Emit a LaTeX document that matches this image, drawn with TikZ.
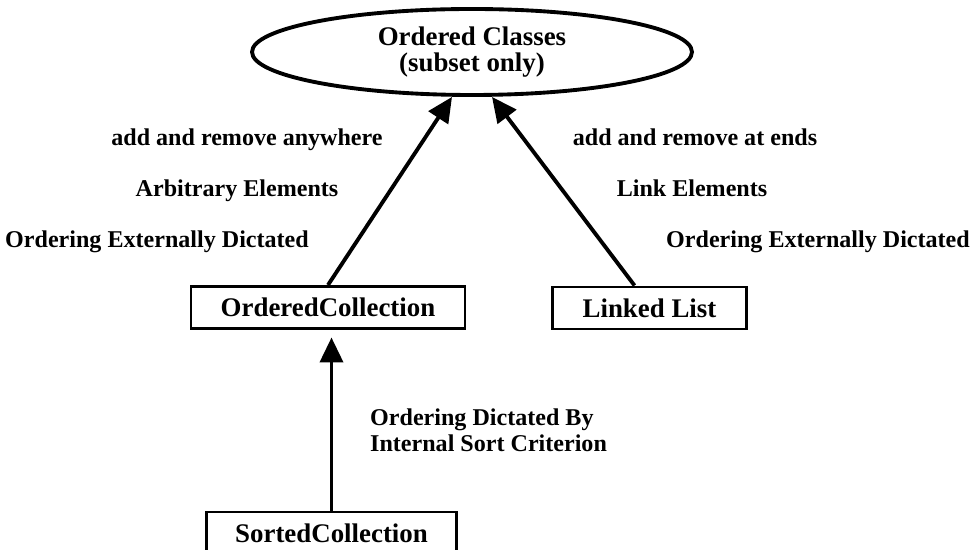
\documentclass[tikz,border=0pt]{standalone}
\usepackage{fontspec}
\setmainfont{Liberation Serif}
\usetikzlibrary{arrows.meta,shapes.geometric,positioning}

\begin{document}
\begin{tikzpicture}[
  font=\bfseries,
  pfeil/.style={-{Triangle[length=5mm, width=4.6mm]}, line width=2.2pt},
  klasse/.style={draw, line width=1.7pt, inner sep=0pt, minimum height=8.4mm,
                 font=\fontsize{15.3}{17}\selectfont\bfseries},
  notiz/.style={anchor=base, font=\fontsize{13.7}{14.5}\selectfont\bfseries}
]
\useasboundingbox (0,0) rectangle (19.54,11.0);

% ---------- Oberklasse ----------------------------------------------
\node[draw, ellipse, line width=2.2pt, inner sep=0pt,
      minimum width=8.8cm, minimum height=1.72cm, align=center,
      font=\fontsize{15.3}{14.8}\selectfont\bfseries]
  (oben) at (9.44,9.96) {Ordered Classes\\(subset only)};

% ---------- Klassen --------------------------------------------------
\node[klasse, minimum width=5.48cm] (oc) at (6.56,4.85) {OrderedCollection};
\node[klasse, minimum width=3.88cm] (ll) at (12.99,4.84) {Linked List};
\node[klasse, minimum width=5.0cm] (sc) at (6.63,0.34) {SortedCollection};

% ---------- Pfeile ---------------------------------------------------
\draw[pfeil] (oc.north) -- ([xshift=-4mm]oben.south);
\draw[pfeil] ([xshift=-3mm]ll.north) -- ([xshift=4mm]oben.south);
\draw[pfeil, shorten >=1.5mm] (sc.north) -- (sc.north |- oc.south);

% ---------- Beschriftung links ---------------------------------------
\node[notiz] (l1) at (4.94,8.08) {add and remove anywhere};
\node[notiz] (l2) at (4.74,7.06) {Arbitrary Elements};
\node[notiz] (l3) at (3.14,6.04) {Ordering Externally Dictated};

% ---------- Beschriftung rechts --------------------------------------
\node[notiz] (r1) at (13.9,8.08) {add and remove at ends};
\node[notiz] (r2) at (13.84,7.06) {Link Elements};
\node[notiz] (r3) at (16.36,6.04) {Ordering Externally Dictated};

% ---------- Beschriftung unten ---------------------------------------
\node[notiz, anchor=west, align=left] (u1) at (7.28,2.39)
  {Ordering Dictated By\\Internal Sort Criterion};

\end{tikzpicture}
\end{document}
